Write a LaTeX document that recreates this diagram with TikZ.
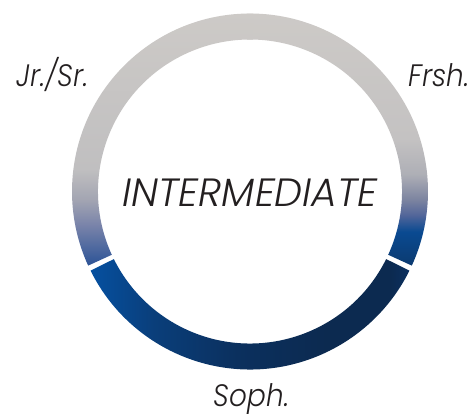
\documentclass[tikz,border=0pt]{standalone}
\usepackage{fontspec}
\newfontfamily\labfont{Poppins Light Italic}
\newfontfamily\labnarrow{Poppins Light Italic}[FakeStretch=0.9]
\definecolor{gTop}{HTML}{CDCAC7}
\definecolor{rF}{HTML}{C4C2C2}
\definecolor{rE}{HTML}{AEAFB6}
\definecolor{rD}{HTML}{7C84A0}
\definecolor{rC}{HTML}{53669A}
\definecolor{rB}{HTML}{0A4A91}
\definecolor{rA}{HTML}{0B3A70}
\definecolor{lE}{HTML}{C0BFC0}
\definecolor{lD}{HTML}{A3A5B2}
\definecolor{lC}{HTML}{7A84AA}
\definecolor{lA}{HTML}{2C5396}
\definecolor{bA}{HTML}{0550A0}
\definecolor{bB}{HTML}{0A3E7A}
\definecolor{bC}{HTML}{0B305E}
\definecolor{bD}{HTML}{0C2A50}
\definecolor{bE}{HTML}{0B3060}
\definecolor{ink}{HTML}{231F20}
\pgfdeclareverticalshading{rightseg}{100bp}{color(0bp)=(rA); color(25bp)=(rA); color(31.7bp)=(rB); color(35bp)=(rC); color(38bp)=(rD); color(43bp)=(rE); color(50bp)=(rF); color(75bp)=(gTop); color(100bp)=(gTop)}
\pgfdeclareverticalshading{leftseg}{100bp}{color(0bp)=(lA); color(25bp)=(lA); color(33.1bp)=(lC); color(38bp)=(lD); color(44bp)=(lE); color(75bp)=(gTop); color(100bp)=(gTop)}
\pgfdeclarehorizontalshading{botseg}{100bp}{color(0bp)=(bA); color(25bp)=(bA); color(35bp)=(bB); color(48bp)=(bC); color(62bp)=(bD); color(72bp)=(bD); color(75bp)=(bE); color(100bp)=(bE)}
\tikzset{
  lab/.style={font=\labnarrow\fontsize{31}{31}\selectfont, text=ink, inner sep=0pt, anchor=base},
  title/.style={font=\labfont\fontsize{39.4}{39.4}\selectfont, text=ink, inner sep=0pt, anchor=base}
}
\begin{document}
\begin{tikzpicture}[x=1pt,y=1pt]
\useasboundingbox (-250,-224.5) rectangle (221,191.5);
\shade[shading=rightseg] (91.05:178) arc[start angle=91.05,end angle=-24.6,radius=178] -- (-24.6:152) arc[start angle=-24.6,end angle=91.05,radius=152] -- cycle;
\shade[shading=leftseg] (88.95:178) arc[start angle=88.95,end angle=204.6,radius=178] -- (204.6:152) arc[start angle=204.6,end angle=88.95,radius=152] -- cycle;
\shade[shading=botseg] (206.4:178) arc[start angle=206.4,end angle=333.6,radius=178] -- (333.6:152) arc[start angle=333.6,end angle=206.4,radius=152] -- cycle;
\node[title] (mid) at (0,-14.5) {INTERMEDIATE};
\node[lab] (jr) at (-197.6,105) {Jr./Sr.};
\node[lab] (fr) at (188.7,105) {Frsh.};
\node[lab] (so) at (1.5,-215) {Soph.};
\end{tikzpicture}
\end{document}
